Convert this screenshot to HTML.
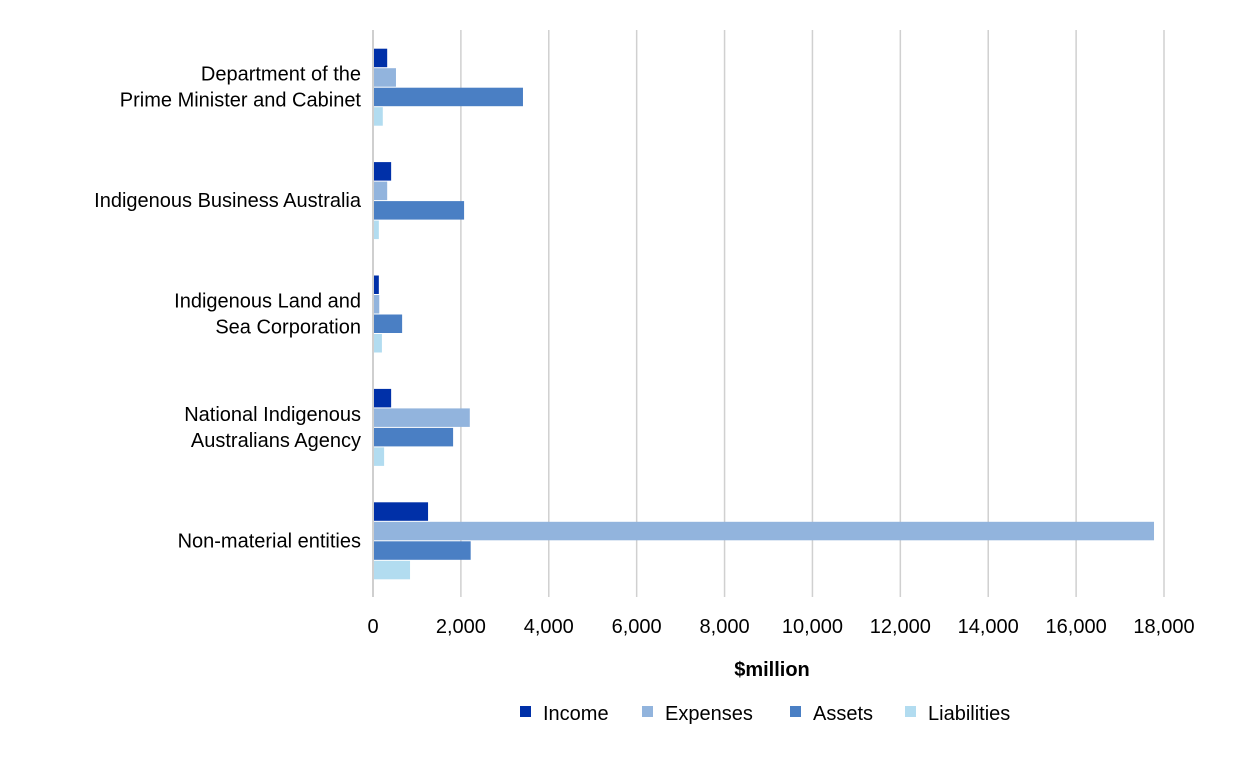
<!DOCTYPE html>
<html><head><meta charset="utf-8"><style>
body{margin:0;background:#fff;font-family:"Liberation Sans",Arial,sans-serif;}
</style></head><body>
<svg id="chart" width="1238" height="757" xmlns="http://www.w3.org/2000/svg" font-family="Liberation Sans, Arial, sans-serif"></svg>
<script>
const categories=[["Department of the","Prime Minister and Cabinet"],["Indigenous Business Australia"],["Indigenous Land and","Sea Corporation"],["National Indigenous","Australians Agency"],["Non-material entities"]];
const seriesNames=["Income","Expenses","Assets","Liabilities"];
const income=[300,390,110,390,1230];
const expenses=[500,300,120,2180,17750];
const assets=[3390,2050,640,1800,2200];
const liabilities=[200,110,180,230,820];
const ticks=[0,2000,4000,6000,8000,10000,12000,14000,16000,18000];
const colors=["#0030a8","#92b4dd","#4a7fc4","#b2dcf0"];
const series=[income,expenses,assets,liabilities];
const svg=document.getElementById('chart');
const NS="http://www.w3.org/2000/svg";
const x0=373,x1=1164,yTop=30,yBot=597;
const xs=v=>x0+(v/18000)*(x1-x0);
const band=(yBot-yTop)/categories.length;
function mk(t,a){const e=document.createElementNS(NS,t);for(const k in a)e.setAttribute(k,a[k]);svg.appendChild(e);return e;}
ticks.forEach((t,i)=>{
  if(i>0){const g=mk('line',{x1:xs(t),x2:xs(t),y1:yTop,y2:yBot,stroke:'#d0d0d0','stroke-width':1.5});
  
  }
  const l=mk('text',{x:xs(t),y:633,'text-anchor':'middle','font-size':20,fill:'#000'});l.textContent=t.toLocaleString('en-US');
  
  
});
const ax=mk('line',{x1:x0,x2:x0,y1:yTop,y2:yBot,stroke:'#bfbfbf','stroke-width':1.5});


const bh=19.5;
categories.forEach((c,i)=>{
  const cy=yTop+band*i+band/2;
  series.forEach((s,j)=>{
    const y=cy-2*bh+j*bh+1;
    const r=mk('rect',{x:x0+1,y:y,width:Math.max(0,xs(s[i])-x0),height:bh-1,fill:colors[j]});
    
    
  });
  const lh=26;const start=cy-(c.length-1)*lh/2+7;
  c.forEach((line,k)=>{
    const t=mk('text',{x:361,y:start+k*lh,'text-anchor':'end','font-size':20,fill:'#000'});t.textContent=line;
    
    
  });
});
const tt=mk('text',{x:772,y:676,'text-anchor':'middle','font-size':20,'font-weight':'bold',fill:'#000'});tt.textContent='$million';


const lx=[520,642,790,905];
seriesNames.forEach((n,j)=>{
  const r=mk('rect',{x:lx[j],y:706,width:11,height:11,fill:colors[j]});
  
  
  const t=mk('text',{x:lx[j]+23,y:720,'font-size':20,fill:'#000'});t.textContent=n;
  
  
});
</script>
</body></html>
